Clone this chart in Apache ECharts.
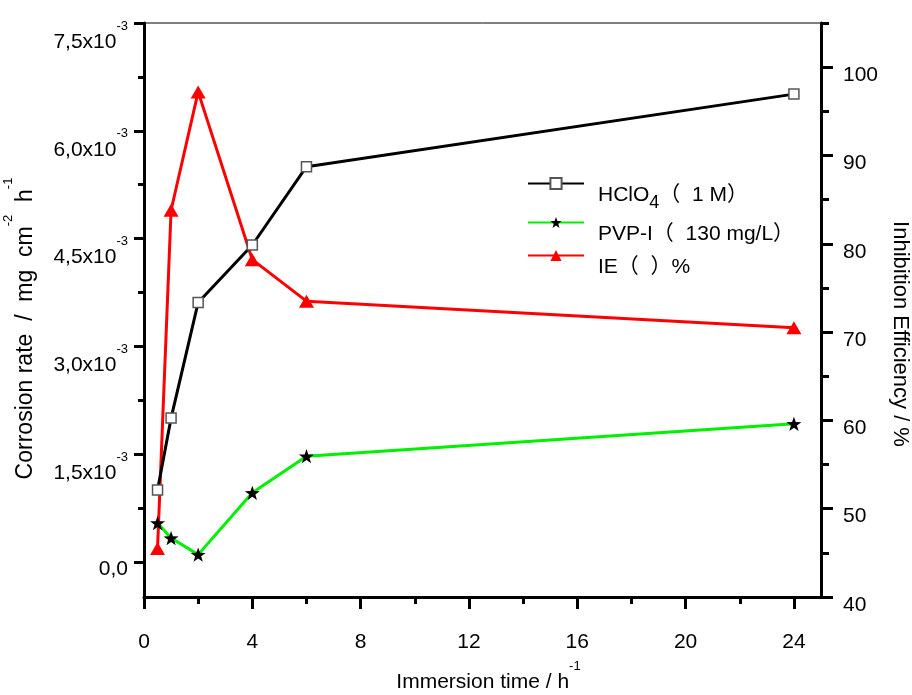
<!DOCTYPE html>
<html>
<head>
<meta charset="utf-8">
<script src="https://cdn.jsdelivr.net/npm/echarts@6/dist/echarts.min.js"></script>
<style>
  html, body { margin: 0; padding: 0; background: #fff; }
  #chart { width: 912px; height: 695px; }
</style>
</head>
<body>
<div id="chart"></div>
<script>
  // immersion time (h)
  const hours = [0.5, 1, 2, 4, 6, 24]
  // corrosion rate, mg cm-2 h-1
  const hclo4Rate = [1.0e-3, 2.0e-3, 3.61e-3, 4.41e-3, 5.50e-3, 6.51e-3]
  const pvpRate = [0.54e-3, 0.33e-3, 0.10e-3, 0.96e-3, 1.47e-3, 1.92e-3]
  // inhibition efficiency, %
  const ieValues = [45.5, 83.8, 97.2, 78.2, 73.5, 70.5]

  const xTicks = [0, 4, 8, 12, 16, 20, 24]
  const xMinorTicks = [2, 6, 10, 14, 18, 22]
  const rateTicks = [0, 0.0015, 0.003, 0.0045, 0.006, 0.0075]
  const rateMinorTicks = [0.00075, 0.00225, 0.00375, 0.00525, 0.00675]
  const ieTicks = [40, 50, 60, 70, 80, 90, 100]
  const ieMinorTicks = [45, 55, 65, 75, 85, 95, 105]

  const legendNames = ['HClO4', 'PVP-I', 'IE']

  const FONT = '"Liberation Sans", Arial, "Noto Sans CJK SC", sans-serif'
  const starPath = 'path://M0,-10L2.35,-3.24L9.51,-3.09L3.8,1.24L5.88,8.09L0,4L-5.88,8.09L-3.8,1.24L-9.51,-3.09L-2.35,-3.24Z'

  // main text pushed down, superscript stays at the top of the line
  const supRich = {
    a: { fontSize: 21, fontFamily: FONT, color: '#000', lineHeight: 21, verticalAlign: 'top', padding: [12, 0, 0, 0] },
    s: { fontSize: 13, fontFamily: FONT, color: '#000', lineHeight: 13, verticalAlign: 'top' },
    z: { fontSize: 21, fontFamily: FONT, color: '#000', lineHeight: 21, verticalAlign: 'top' },
    r: { fontSize: 21, fontFamily: FONT, color: '#000', lineHeight: 21, verticalAlign: 'top', padding: [8, 0, 0, 0] }
  }
  const nameRich = {
    a: { fontSize: 23, fontFamily: FONT, color: '#000', lineHeight: 23, verticalAlign: 'top', padding: [12, 0, 0, 0] },
    s: { fontSize: 13, fontFamily: FONT, color: '#000', lineHeight: 13, verticalAlign: 'top' }
  }

  function pairs(ys) {
    return hours.map((h, i) => [h, ys[i]])
  }

  const chart = echarts.init(document.getElementById('chart'))

  const axisLine = { show: true, onZero: false, lineStyle: { color: '#000', width: 3 } }
  const noLine = { show: false, onZero: false }

  chart.setOption({
    backgroundColor: '#fff',
    animation: false,
    grid: {
      left: 144,
      right: 91,
      top: 23,
      bottom: 98,
      outerBoundsMode: 'none',
      show: true,
      borderColor: '#000',
      borderWidth: 1,
      backgroundColor: 'transparent'
    },
    legend: {
      orient: 'vertical',
      left: 527,
      top: 173,
      padding: 0,
      itemWidth: 56,
      itemHeight: 14,
      itemGap: 0,
      data: legendNames,
      formatter(name) {
        if (name === 'HClO4') return '{n|HClO}{b|4}{n|（  1 M）}'
        if (name === 'PVP-I') return '{n|PVP-I（  130 mg/L）}'
        return '{n|IE（  ）%}'
      },
      textStyle: {
        padding: [0, 0, 0, 9],
        rich: {
          n: { fontSize: 21, fontFamily: FONT, color: '#000', lineHeight: 21, verticalAlign: 'top', padding: [12, 0, 0, 0] },
          b: { fontSize: 18, fontFamily: FONT, color: '#000', lineHeight: 18, verticalAlign: 'top', padding: [21, 0, 0, 0] }
        }
      }
    },
    xAxis: [{
      type: 'value',
      position: 'bottom',
      min: 0,
      max: 25,
      axisLine: axisLine,
      axisTick: { customValues: xTicks, length: 12, lineStyle: { color: '#000', width: 3 } },
      axisLabel: { customValues: xTicks, margin: 35, fontSize: 21, fontFamily: FONT, color: '#000' },
      splitLine: { show: false },
      name: '{a|Immersion time / h}{s|-1}',
      nameLocation: 'middle',
      nameGap: 63,
      nameTextStyle: { rich: supRich, padding: [0, 0, 0, 12] }
    }, {
      type: 'value',
      position: 'bottom',
      min: 0,
      max: 25,
      axisLine: noLine,
      axisTick: { customValues: xMinorTicks, length: 7, lineStyle: { color: '#000', width: 3 } },
      axisLabel: { show: false },
      splitLine: { show: false }
    }],
    yAxis: [{
      type: 'value',
      position: 'left',
      min: -0.00049,
      max: 0.0075,
      axisLine: axisLine,
      axisTick: { customValues: rateTicks, length: 10, lineStyle: { color: '#000', width: 3 } },
      axisLabel: {
        customValues: rateTicks,
        margin: 16,
        padding: [14, 0, 0, 0],
        formatter(v) {
          if (Math.abs(v) < 1e-9) return '{z|0,0}'
          return '{a|' + (v * 1000).toFixed(1).replace('.', ',') + 'x10}{s|-3}'
        },
        rich: supRich
      },
      splitLine: { show: false },
      name: '{a|Corrosion rate  /  mg  cm}{s|-2}{a|  h}{s|-1}',
      nameLocation: 'middle',
      nameGap: 119,
      nameTextStyle: { rich: nameRich, padding: [0, 37, 0, 0] }
    }, {
      type: 'value',
      position: 'right',
      min: 40,
      max: 105,
      axisLine: axisLine,
      axisTick: { customValues: ieTicks, length: 12, lineStyle: { color: '#000', width: 3 } },
      axisLabel: {
        customValues: ieTicks,
        margin: 22,
        formatter: v => '{r|' + v + '}',
        rich: supRich
      },
      splitLine: { show: false },
      name: 'Inhibition Efficiency / %',
      nameLocation: 'middle',
      nameRotate: -90,
      nameGap: 62,
      nameTextStyle: { fontSize: 22, fontFamily: FONT, color: '#000', padding: [0, 0, 0, 48] }
    }, {
      type: 'value',
      position: 'left',
      min: -0.00049,
      max: 0.0075,
      axisLine: noLine,
      axisTick: { customValues: rateMinorTicks, length: 6, lineStyle: { color: '#000', width: 3 } },
      axisLabel: { show: false },
      splitLine: { show: false }
    }, {
      type: 'value',
      position: 'right',
      min: 40,
      max: 105,
      axisLine: noLine,
      axisTick: { customValues: ieMinorTicks, length: 8, lineStyle: { color: '#000', width: 3 } },
      axisLabel: { show: false },
      splitLine: { show: false }
    }],
    series: [{
      name: 'HClO4',
      type: 'line',
      yAxisIndex: 0,
      data: pairs(hclo4Rate),
      symbol: 'rect',
      symbolSize: 10,
      lineStyle: { color: '#000', width: 3 },
      itemStyle: { color: '#fff', borderColor: '#555', borderWidth: 1.5 },
      z: 3
    }, {
      name: 'PVP-I',
      type: 'line',
      yAxisIndex: 0,
      data: pairs(pvpRate),
      symbol: starPath,
      symbolKeepAspect: true,
      symbolSize: 15,
      lineStyle: { color: '#00f000', width: 3 },
      itemStyle: { color: '#000' },
      z: 3
    }, {
      name: 'IE',
      type: 'line',
      yAxisIndex: 1,
      data: pairs(ieValues),
      symbol: 'triangle',
      symbolSize: [15, 13],
      lineStyle: { color: '#ff0000', width: 3 },
      itemStyle: { color: '#ff0000' },
      z: 2
    }]
  })
</script>
</body>
</html>
